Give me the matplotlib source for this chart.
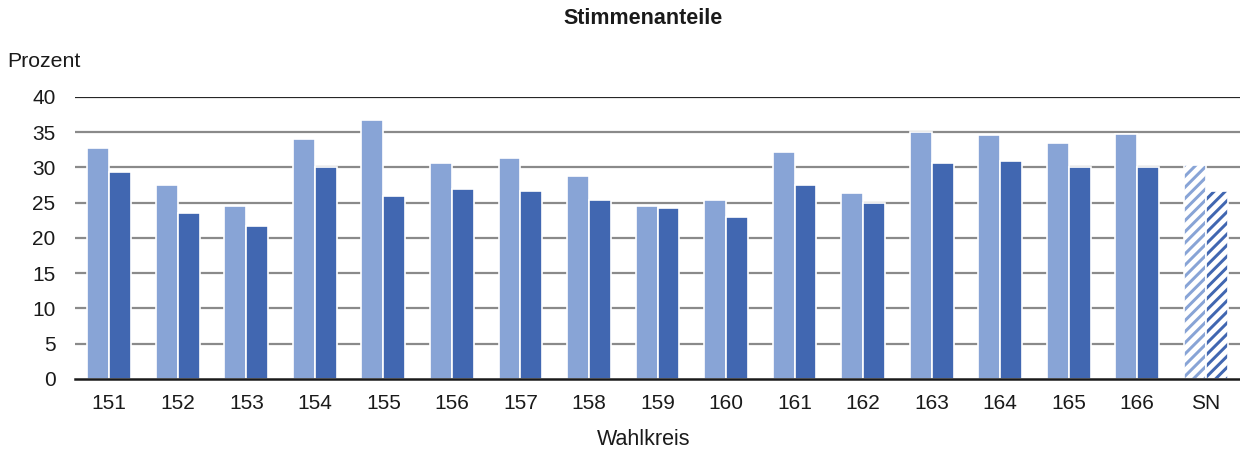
import matplotlib.pyplot as plt
import numpy as np

plt.rcParams['font.family'] = ['Liberation Sans', 'DejaVu Sans']
plt.rcParams['hatch.linewidth'] = 3.5

wahlkreise = ['151', '152', '153', '154', '155', '156', '157', '158', '159',
              '160', '161', '162', '163', '164', '165', '166', 'SN']
erst = [32.8, 27.5, 24.5, 34.0, 36.7, 30.6, 31.4, 28.8, 24.6,
        25.4, 32.2, 26.4, 35.1, 34.6, 33.5, 34.8, 30.4]
zweit = [29.4, 23.5, 21.7, 30.1, 26.0, 27.0, 26.7, 25.4, 24.3,
         23.0, 27.5, 24.9, 30.6, 30.9, 30.1, 30.1, 26.7]

hell = '#88a4d6'
dunkel = '#4167b1'

fig = plt.figure(figsize=(12.4, 4.62), dpi=100)
ax = fig.add_axes([0.0605, 0.1797, 0.9395, 0.6104])

x = np.arange(len(wahlkreise))
b = 0.32
for i in range(len(x)):
    sn = wahlkreise[i] == 'SN'
    ax.bar(x[i] - b / 2, erst[i], b, color=hell, edgecolor='white', linewidth=1.2,
           hatch='///' if sn else None, zorder=3)
    ax.bar(x[i] + b / 2, zweit[i], b, color=dunkel, edgecolor='white', linewidth=1.2,
           hatch='///' if sn else None, zorder=3)

ax.set_xlim(-0.5, len(x) - 0.5)
ax.set_ylim(0, 40)
ax.set_yticks(range(0, 41, 5))
ax.set_xticks(x)
ax.set_xticklabels(wahlkreise)
for y in range(5, 40, 5):
    ax.axhline(y, color='#8a8a8a', lw=1.6, zorder=1)
ax.axhline(40, color='#262626', lw=1.6, zorder=1)

for s in ['top', 'right', 'left']:
    ax.spines[s].set_visible(False)
ax.spines['bottom'].set_linewidth(1.8)
ax.spines['bottom'].set_color('#1a1a1a')
ax.spines['bottom'].set_zorder(5)
ax.tick_params(length=0, labelsize=15, colors='#1a1a1a')
ax.tick_params(axis='y', pad=14)
ax.tick_params(axis='x', pad=11)

fig.text(0.519, 0.96, 'Stimmenanteile', ha='center', va='center',
         fontsize=15.5, fontweight='bold', color='#1a1a1a')
fig.text(0.006, 0.866, 'Prozent', ha='left', va='center', fontsize=15.3, color='#1a1a1a')
fig.text(0.519, 0.048, 'Wahlkreis', ha='center', va='center', fontsize=15.5, color='#1a1a1a')

fig.savefig('out.png', dpi=100)
